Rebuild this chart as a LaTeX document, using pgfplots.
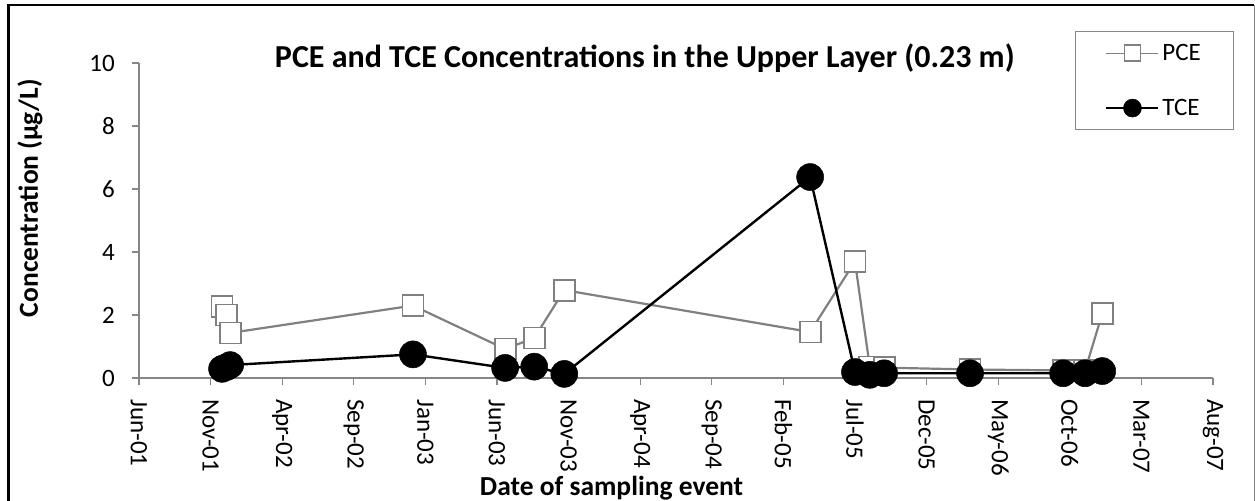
\documentclass[border=0pt]{standalone}
\usepackage{fontspec}
\setmainfont{Carlito}
\usepackage{pgfplots}
\pgfplotsset{compat=1.18}
\definecolor{pcegray}{RGB}{128,128,128}
\definecolor{axgray}{RGB}{134,134,134}
\begin{document}
\begin{tikzpicture}
\useasboundingbox (0,0) rectangle (1255bp,501bp);
\draw[black,line width=1.5bp] (8bp,496bp) -- (1254bp,496bp);
\draw[black,line width=3bp] (8bp,497bp) -- (8bp,0);
\draw[axgray,line width=1bp] (1254bp,496bp) -- (1254bp,0);
\begin{axis}[
 at={(139bp,123bp)}, anchor=south west,
 scale only axis, width=1074bp, height=315bp,
 xmin=0, xmax=2250, ymin=0, ymax=10,
 axis x line*=bottom, axis y line*=left,
 axis line style={axgray, line width=1.2bp, -},
 tick style={axgray, line width=1.2bp},
 tick align=outside, major tick length=7bp,
 xtick={0,150,...,2250},
 xticklabels={Jun-01,Nov-01,Apr-02,Sep-02,Jan-03,Jun-03,Nov-03,Apr-04,Sep-04,Feb-05,Jul-05,Dec-05,May-06,Oct-06,Mar-07,Aug-07},
 xticklabel style={rotate=-90, anchor=west, font=\fontsize{25bp}{30bp}\selectfont, inner sep=0bp},
 xticklabel shift=14bp,
 ytick={0,2,...,10},
 yticklabel style={font=\fontsize{25bp}{30bp}\selectfont, /pgf/number format/assume math mode=true, inner sep=0bp},
 yticklabel shift=17bp,
 title={PCE and TCE Concentrations in the Upper Layer (0.23 m)},
 title style={at={(axis description cs:0.471,0.995)}, anchor=center, font=\bfseries\fontsize{32bp}{38bp}\selectfont},
 xlabel={Date of sampling event},
 xlabel style={at={(axis description cs:0.44,-0.349)}, anchor=center, font=\bfseries\fontsize{27.5bp}{32bp}\selectfont},
 ylabel={Concentration (µg/L)},
 ylabel style={at={(axis description cs:-0.1015,0.571)}, anchor=center, font=\bfseries\fontsize{27.5bp}{32bp}\selectfont},
 legend style={at={(axis description cs:0.8715,1.1016)}, anchor=north west, draw=axgray, line width=1bp,
   font=\fontsize{25bp}{30bp}\selectfont, inner xsep=30bp, inner ysep=10bp, row sep=31bp,
   nodes={inner sep=3bp}},
 legend cell align=left,
 clip=false,
]
\addplot[pcegray, line width=2.2bp, mark=square*, mark size=10.5bp,
  mark options={fill=white, draw=pcegray, line width=1.8bp},
  legend image code/.code={\draw[mark repeat=2,mark phase=2,mark size=8bp,line width=1.5bp] plot coordinates {(0bp,0bp)(26bp,0bp)(52bp,0bp)};}]
 coordinates {
 (174,2.26) (184,2.0) (191,1.43) (574,2.3) (767,0.92) (828,1.27) (891,2.79)
 (1406,1.46) (1500,3.7) (1531,0.35) (1561,0.33) (1741,0.27) (1936,0.24) (1982,0.24) (2018,2.04)
 };
\addlegendentry{PCE}
\addplot[black, line width=2.4bp, mark=*, mark size=13.5bp,
  mark options={fill=black, draw=black, line width=0.5bp},
  legend image code/.code={\draw[mark repeat=2,mark phase=2,mark size=9bp,line width=2bp] plot coordinates {(0bp,0bp)(26bp,0bp)(52bp,0bp)};}]
 coordinates {
 (174,0.29) (184,0.35) (191,0.41) (574,0.75) (767,0.32) (828,0.36) (891,0.13)
 (1406,6.38) (1500,0.19) (1531,0.1) (1561,0.15) (1741,0.15) (1936,0.15) (1982,0.15) (2018,0.22)
 };
\addlegendentry{TCE}
\end{axis}
\end{tikzpicture}
\end{document}
